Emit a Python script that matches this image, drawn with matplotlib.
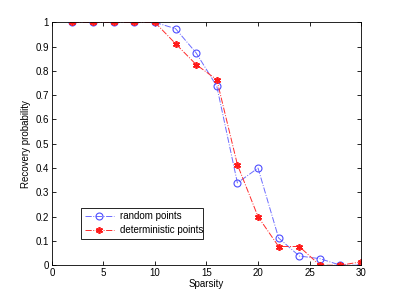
import numpy as np
import matplotlib
matplotlib.use('Agg')
import matplotlib.pyplot as plt

sparsity = [2, 4, 6, 8, 10, 12, 14, 16, 18, 20, 22, 24, 26, 28, 30]
random_points = [1, 1, 1, 1, 1, 0.974, 0.874, 0.737, 0.339, 0.40,
                 0.112, 0.038, 0.027, 0.0, 0.0]
deterministic_points = [1, 1, 1, 1, 1, 0.912, 0.826, 0.764, 0.414, 0.20,
                        0.077, 0.077, 0.0, 0.0, 0.014]

plt.rcParams['font.family'] = ['Liberation Sans', 'DejaVu Sans']
plt.rcParams['font.size'] = 7

fig = plt.figure(figsize=(3.99, 2.98), dpi=100)
axes = fig.add_axes([0.13, 0.11, 0.775, 0.815])

axes.plot(sparsity, random_points, linestyle='-.', color='#6b6bff', linewidth=0.7,
          marker='o', markersize=5, markerfacecolor='none', markeredgecolor='#4d4dff',
          markeredgewidth=0.8, label='random points')
axes.plot(sparsity, deterministic_points, linestyle='-.', color='#ff2a2a', linewidth=0.7,
          marker=(6, 2, 0), markersize=5, markeredgecolor='#ff1a1a',
          markeredgewidth=1.2, label='deterministic points')

axes.set_xlim(0, 30)
axes.set_ylim(0, 1)
axes.set_xticks(np.arange(0, 31, 5))
axes.set_yticks(np.arange(0, 1.01, 0.1))
axes.set_yticklabels(['0', '0.1', '0.2', '0.3', '0.4', '0.5', '0.6', '0.7', '0.8', '0.9', '1'])
axes.tick_params(direction='in', top=True, right=True, length=3, width=0.6, pad=2)
for spine in axes.spines.values():
    spine.set_linewidth(0.6)

axes.set_xlabel('Sparsity', labelpad=1)
axes.set_ylabel('Recovery probability', labelpad=3)

axes.legend(loc='lower left', bbox_to_anchor=(0.094, 0.107, 0.395, 0.128), mode='expand',
            fancybox=False, edgecolor='black', framealpha=1, borderaxespad=0,
            handlelength=3, borderpad=0.4, labelspacing=0.4, handletextpad=0.6)
axes.get_legend().get_frame().set_linewidth(0.6)

fig.savefig('out.png', dpi=100)
